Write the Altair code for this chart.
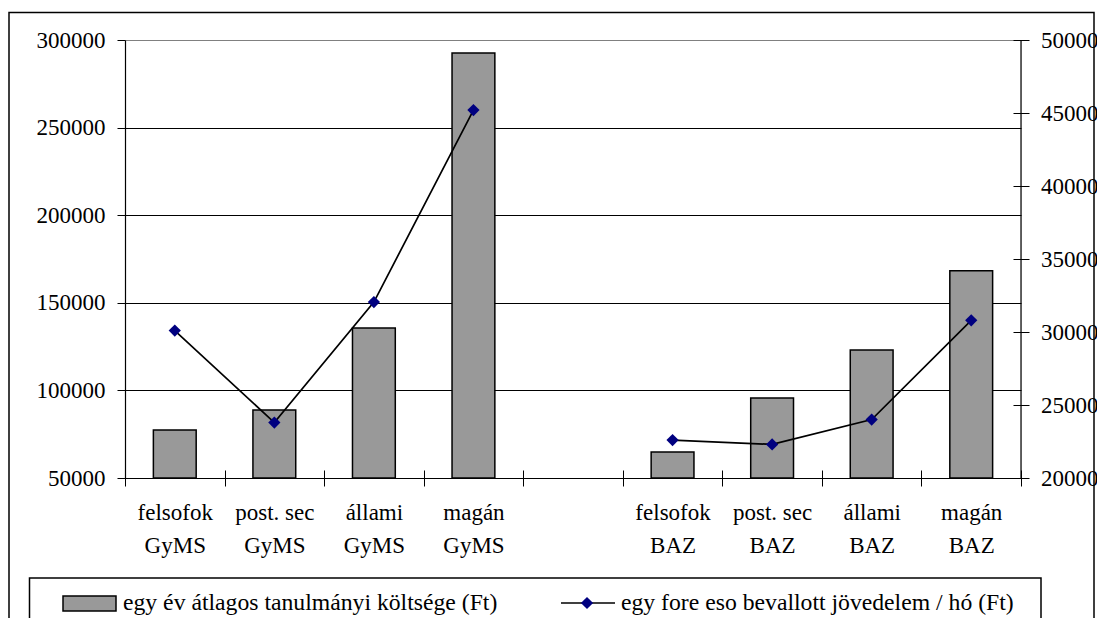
import altair as alt
import pandas as pd

# ---- data ----
categories = ["felsofok|GyMS", "post. sec|GyMS", "állami|GyMS", "magán|GyMS", "",
              "felsofok|BAZ", "post. sec|BAZ", "állami|BAZ", "magán|BAZ"]
bar_cats = ["felsofok|GyMS", "post. sec|GyMS", "állami|GyMS", "magán|GyMS",
            "felsofok|BAZ", "post. sec|BAZ", "állami|BAZ", "magán|BAZ"]
regions = ["GyMS", "GyMS", "GyMS", "GyMS", "BAZ", "BAZ", "BAZ", "BAZ"]
cost = [77400, 88800, 135600, 292600, 64800, 95700, 123000, 168300]
income = [30100, 23800, 32050, 45200, 22600, 22300, 24000, 30800]
left_ticks = [50000, 100000, 150000, 200000, 250000, 300000]
right_ticks = [20000, 25000, 30000, 35000, 40000, 45000, 50000]
legend_bar = "egy év átlagos tanulmányi költsége (Ft)"
legend_line = "egy fore eso bevallott jövedelem / hó (Ft)"

df = pd.DataFrame({"cat": bar_cats, "region": regions, "cost": cost, "income": income})
one = pd.DataFrame({"k": [0]})

FONT = "Liberation Serif"
FS = 23
LFS = 23.7
W, H = 896, 438

xscale = alt.Scale(domain=categories, paddingInner=0, paddingOuter=0)
xaxis = alt.Axis(title=None, labelExpr="split(datum.label, '|')", labelAngle=0,
                 labelFont=FONT, labelFontSize=FS, labelColor="black",
                 labelLineHeight=33, labelPadding=15, labelBaseline="top",
                 tickBand="extent", tickSize=16, tickColor="black", tickWidth=1,
                 offset=-8, domain=False, grid=False)

bars = alt.Chart(df).mark_bar(fill="#999999", stroke="black", strokeWidth=1.5,
                              width=alt.RelativeBandSize(0.43)).encode(
    x=alt.X("cat:N", scale=xscale, axis=xaxis, sort=categories),
    y=alt.Y("cost:Q", scale=alt.Scale(domain=[50000, 300000], zero=False, nice=False),
            axis=alt.Axis(title=None, values=left_ticks, format="d", labelFont=FONT,
                          labelFontSize=FS, labelColor="black", labelPadding=12,
                          tickSize=8, tickColor="black", tickWidth=1,
                          domainColor="black", domainWidth=1.2, grid=True,
                          gridColor=alt.condition("datum.value === 300000",
                                                  alt.value("#808080"), alt.value("black")),
                          gridWidth=1)),
    y2=alt.datum(50000),
)

yr = alt.Scale(domain=[20000, 50000], zero=False, nice=False)
right_axis = alt.Axis(title=None, orient="right", values=right_ticks, format="d",
                      labelFont=FONT, labelFontSize=FS, labelColor="black",
                      labelPadding=11.5, tickSize=16, tickColor="black", tickWidth=1,
                      offset=-8, domain=False, grid=False)
line = alt.Chart(df).mark_line(color="black", strokeWidth=1.7).encode(
    x=alt.X("cat:N", scale=xscale, sort=categories),
    y=alt.Y("income:Q", scale=yr, axis=right_axis),
    detail="region:N",
)
points = alt.Chart(df).mark_point(shape="diamond", filled=True, color="#000080",
                                  size=150, opacity=1).encode(
    x=alt.X("cat:N", scale=xscale, sort=categories),
    y=alt.Y("income:Q", scale=yr, axis=right_axis),
)
right = alt.layer(line, points)

# ---- frames and legend (decoration) ----
outer = alt.Chart(one).mark_rect(fillOpacity=0, stroke="black", strokeWidth=1.5).encode(
    x=alt.value(-116), x2=alt.value(969), y=alt.value(-27.5), y2=alt.value(700))
right_domain = alt.Chart(one).mark_rule(color="black", strokeWidth=1.2).encode(
    x=alt.value(W), y=alt.value(0), y2=alt.value(H))
leg_box = alt.Chart(one).mark_rect(fillOpacity=0, stroke="black", strokeWidth=1.5).encode(
    x=alt.value(-95.5), x2=alt.value(916), y=alt.value(538), y2=alt.value(700))
leg_sym1 = alt.Chart(one).mark_rect(fill="#999999", stroke="black", strokeWidth=1.5).encode(
    x=alt.value(-62), x2=alt.value(-9), y=alt.value(556), y2=alt.value(571))
leg_txt1 = alt.Chart(one).mark_text(font=FONT, fontSize=LFS, align="left", baseline="middle",
                                    color="black").encode(
    x=alt.value(-2), y=alt.value(563), text=alt.value(legend_bar))
leg_rule = alt.Chart(one).mark_rule(color="black", strokeWidth=1.7).encode(
    x=alt.value(436), x2=alt.value(490), y=alt.value(563))
leg_pt = alt.Chart(one).mark_point(shape="diamond", filled=True, color="#000080",
                                   size=150, opacity=1).encode(
    x=alt.value(462), y=alt.value(563))
leg_txt2 = alt.Chart(one).mark_text(font=FONT, fontSize=LFS, align="left", baseline="middle",
                                    color="black").encode(
    x=alt.value(496), y=alt.value(563), text=alt.value(legend_line))

chart = alt.layer(
    outer, bars, right, right_domain, leg_box, leg_sym1, leg_txt1, leg_rule, leg_pt, leg_txt2
).resolve_scale(y="independent").properties(
    width=W, height=H,
    padding={"left": 117, "top": 32, "right": 76, "bottom": 140},
    autosize=alt.AutoSizeParams(type="none"),
    background="white",
).configure_view(stroke="#808080", strokeWidth=1).configure(font=FONT)

chart.save("out.html", embed_options={"renderer": "svg", "actions": False})
